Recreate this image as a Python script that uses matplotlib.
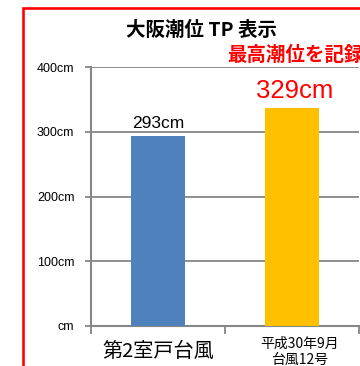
import matplotlib
matplotlib.use("Agg")
import matplotlib.pyplot as plt
from matplotlib.patches import Rectangle

plt.rcParams['font.family'] = ['Noto Sans CJK JP', 'DejaVu Sans']

# データ
categories = ['第2室戸台風', '平成30年9月\n台風12号']
values = [293, 337]
value_labels = ['293cm', '329cm']
bar_colors = ['#4f81bd', '#ffc000']
yticks = [0, 100, 200, 300, 400]
ytick_labels = ['cm', '100cm', '200cm', '300cm', '400cm']

W, H = 360, 366
fig = plt.figure(figsize=(W / 100, H / 100), dpi=100)

# 赤い枠
fig.patches.append(Rectangle((23 / W, -0.1), 1.2, 1 - 8 / H + 0.1, transform=fig.transFigure,
                             fill=False, edgecolor='#ff0000', linewidth=1.9))

ax = fig.add_axes([91 / W, 1 - 326 / H, 268 / W, 259 / H])
x = range(len(categories))
ax.bar(x, values, width=0.4, color=bar_colors, zorder=3)
ax.set_xlim(-0.5, 1.5)
ax.set_ylim(0, 400)

ax.set_yticks(yticks)
ax.set_yticklabels(ytick_labels, fontfamily='Liberation Sans', fontsize=9)
ax.yaxis.grid(True, color='#868686', linewidth=1.3, zorder=0)
ax.tick_params(axis='y', direction='out', length=4, width=1.3, color='#868686', pad=8)

ax.set_xticks([-0.5, 0.5, 1.5])
ax.set_xticklabels([])
ax.tick_params(axis='x', direction='out', length=6, width=1.3, color='#868686')

for s in ['top', 'right']:
    ax.spines[s].set_visible(False)
for s in ['left', 'bottom']:
    ax.spines[s].set_color('#868686')
    ax.spines[s].set_linewidth(1.5)

# カテゴリ名
ax.text(0, -0.1, categories[0], transform=ax.get_xaxis_transform(), ha='center', va='center',
        fontsize=14.5)
ax.text(1.06, -0.1, categories[1], transform=ax.get_xaxis_transform(), ha='center', va='center',
        fontsize=10, linespacing=1.2)

# 値ラベル
ax.text(0, values[0] + 8, value_labels[0], ha='center', va='bottom', fontsize=12.5,
        fontfamily='Liberation Sans')
ax.text(1.02, values[1] + 8, value_labels[1], ha='center', va='bottom', fontsize=18.5,
        fontfamily='Liberation Sans', color='#ff0000')

fig.text(201 / W, 1 - 30 / H, '大阪潮位 TP 表示', ha='center', va='center', fontsize=14,
         fontweight='bold')
fig.text(227 / W, 1 - 55 / H, '最高潮位を記録', ha='left', va='center', fontsize=14,
         fontweight='bold', color='#ff0000')

fig.savefig('out.png', dpi=100)
